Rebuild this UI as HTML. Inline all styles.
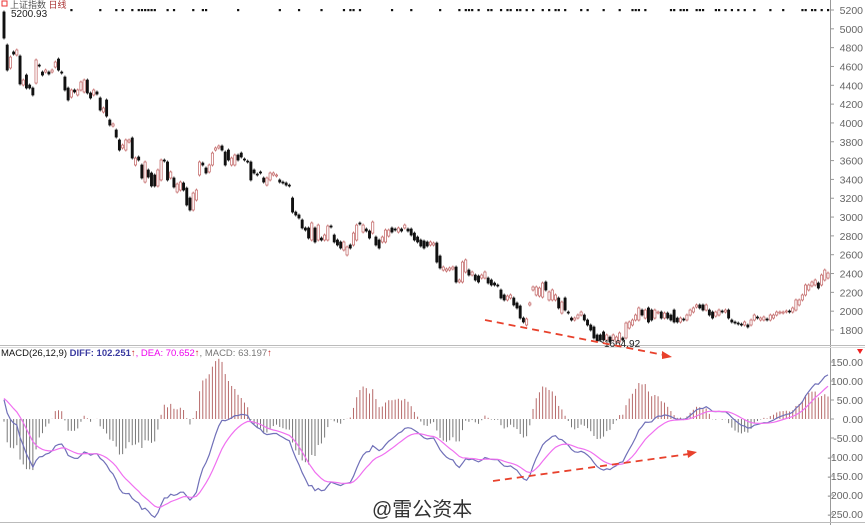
<!DOCTYPE html>
<html><head><meta charset="utf-8"><style>
body{margin:0;background:#fff;width:865px;height:525px;overflow:hidden;font-family:"Liberation Sans","Noto Sans CJK SC",sans-serif}
svg text{font-family:"Liberation Sans","Noto Sans CJK SC",sans-serif}
</style></head><body>
<svg id="chart" width="865" height="525" viewBox="0 0 865 525" xmlns="http://www.w3.org/2000/svg">
<rect x="0" y="0" width="865" height="525" fill="#fff"/>
<line x1="830.5" y1="0" x2="830.5" y2="525" stroke="#999"/>
<line x1="0" y1="345.5" x2="865" y2="345.5" stroke="#bbb"/>
<line x1="0" y1="347.5" x2="865" y2="347.5" stroke="#ddd"/>
<line x1="0" y1="522.5" x2="865" y2="522.5" stroke="#bbb"/>
<g id="priceTicks"></g>
<g id="macdTicks"></g>
<g id="signals"></g>
<g id="hist"></g>
<g id="candles"></g>
<g id="lines"></g>
<rect x="2" y="1" width="5" height="5" fill="none" stroke="#e33" stroke-width="1"/>
<text x="10" y="8" font-size="9" fill="#555">上证指数 <tspan fill="#a33">日线</tspan></text>
<text x="11" y="17" font-size="10" fill="#222">5200.93</text>
<text x="604" y="347" font-size="10" fill="#222">1664.92</text>
<line x1="598" y1="340" x2="604" y2="343" stroke="#333"/>
<text x="1" y="356" font-size="9.5" fill="#111">MACD(26,12,9) <tspan fill="#3a3aa0" font-weight="bold">DIFF: 102.251</tspan><tspan fill="#c33">↑</tspan><tspan fill="#e0e">, DEA: 70.652</tspan><tspan fill="#c33">↑</tspan><tspan fill="#777">, MACD: 63.197</tspan><tspan fill="#c33">↑</tspan></text>
<polygon points="857,349 863,349 860,354" fill="#e22"/>
<g>
<line x1="485" y1="320" x2="664" y2="355" stroke="#e8412c" stroke-width="1.8" stroke-dasharray="7,5"/>
<polygon points="672,357 662,351 662,359" fill="#e8412c"/></g>
<g>
<line x1="493" y1="481" x2="689" y2="454" stroke="#e8412c" stroke-width="1.8" stroke-dasharray="7,5"/>
<polygon points="697,452 687,450 688,458" fill="#e8412c"/></g>
<text x="372" y="516" font-size="20" fill="#333">@雷公资本</text>
</svg>
<script>
const opens=[5179,4828,4584,4754,4722,4711,4403,4509,4403,4371,4424,4615,4541,4541,4541,4541,4594,4679,4541,4488,4371,4275,4350,4297,4350,4329,4456,4318,4297,4329,4265,4116,4244,4031,3967,3925,3819,3734,3712,3797,3840,3553,3638,3553,3372,3500,3468,3447,3330,3394,3606,3585,3415,3415,3266,3287,3362,3308,3202,3075,3181,3447,3574,3521,3479,3553,3712,3734,3755,3691,3712,3553,3553,3659,3680,3617,3595,3585,3500,3457,3479,3415,3340,3394,3447,3436,3394,3372,3362,3340,3202,3053,3022,2969,2884,2884,2756,2884,2756,2777,2756,2756,2905,2809,2756,2735,2650,2597,2703,2703,2756,2937,2841,2873,2852,2830,2788,2756,2735,2735,2798,2884,2873,2841,2873,2884,2873,2873,2830,2788,2756,2746,2735,2703,2703,2724,2586,2437,2427,2437,2448,2469,2310,2310,2416,2437,2384,2384,2374,2352,2352,2352,2331,2299,2278,2225,2172,2119,2140,2140,2087,2055,1927,1853,2066,2225,2172,2161,2150,2310,2119,2119,2119,2140,1980,2140,1991,1927,1906,1927,1959,1959,1906,1853,1832,1747,1747,1779,1694,1725,1694,1672,1672,1715,1715,1821,1853,1906,1906,2012,1927,2034,2012,1927,1980,1991,1927,1980,1959,2012,1927,1885,1917,1906,1959,1991,2044,2066,2066,2012,2012,1991,1948,1959,2002,1991,2012,1906,1885,1874,1863,1853,1853,1853,1906,1938,1906,1906,1917,1906,1927,1959,1980,1980,1991,2002,1991,2012,2066,2119,2172,2225,2268,2278,2299,2278,2331,2352];
const closes=[4902,4562,4700,4732,4775,4414,4456,4371,4371,4297,4669,4605,4509,4562,4520,4562,4647,4562,4530,4350,4244,4350,4329,4350,4435,4456,4318,4265,4350,4307,4137,4159,4073,3978,3989,3850,3712,3765,3819,3819,3627,3627,3606,3415,3585,3425,3330,3330,3500,3606,3595,3394,3479,3319,3351,3372,3287,3128,3075,3255,3287,3585,3553,3468,3553,3680,3734,3755,3712,3553,3606,3627,3659,3606,3638,3606,3585,3394,3468,3447,3468,3372,3415,3468,3468,3447,3372,3362,3340,3330,3053,3022,2990,2884,2862,2777,2937,2735,2915,2756,2809,2905,2894,2735,2703,2671,2735,2682,2671,2830,2915,2926,2915,2852,2777,2947,2703,2671,2788,2862,2862,2841,2862,2884,2852,2915,2852,2809,2756,2735,2692,2671,2692,2735,2724,2522,2459,2469,2448,2459,2469,2310,2331,2522,2544,2384,2416,2331,2310,2384,2416,2299,2278,2278,2268,2140,2119,2161,2172,2066,2034,1927,1885,1917,2087,2257,2257,2246,2299,2225,2204,2225,2172,2034,2097,2012,1980,1906,1927,1959,1991,1906,1853,1800,1715,1683,1694,1694,1747,1672,1747,1725,1768,1694,1874,1885,1906,1959,2034,1959,2012,1885,1906,2012,1991,1927,1980,1927,1906,1885,1885,1927,1906,1959,2012,2034,2066,2034,2012,2066,1959,1927,1991,2012,1991,2012,1927,1885,1874,1863,1853,1885,1832,1906,1959,1927,1927,1938,1906,1959,1959,1991,1991,1991,2002,1991,2034,2119,2119,2172,2278,2278,2310,2331,2246,2384,2437,2405];
const signalIdx=[21,30,35,37,40,42,43,44,45,46,47,51,53,59,62,63,73,86,92,99,106,108,109,111,121,127,136,142,144,145,146,148,151,152,155,157,158,160,161,163,165,168,170,172,173,175,180,182,187,192,196,197,198,200,208,209,211,212,213,216,217,218,222,223,225,227,229,231,234,239,243,249,250,252,253,255,257];
const priceTicks=[5200,5000,4800,4600,4400,4200,4000,3800,3600,3400,3200,3000,2800,2600,2400,2200,2000,1800];
const macdTicks=[150,100,50,0,-50,-100,-150,-200,-250];
const macdSeed=[60,55]; // prior DIFF, prior DEA before first visible bar

const NS='http://www.w3.org/2000/svg';
const N=Math.min(opens.length,closes.length);
const xOf=i=>4+i*(824/(N-1));
const yP=v=>10+(5200-v)*320/3400;
const yM=v=>419-v*0.38;
function mk(tag,attrs,parent){const e=document.createElementNS(NS,tag);for(const k in attrs)e.setAttribute(k,attrs[k]);parent.appendChild(e);return e;}

const pt=document.getElementById('priceTicks');
priceTicks.forEach(v=>{
  const t=mk('text',{x:863,y:yP(v)+4,'font-size':10.5,fill:'#666','text-anchor':'end'},pt);
  t.textContent=v;
  
  
  mk('line',{x1:830,x2:834,y1:yP(v),y2:yP(v),stroke:'#999'},pt);
});
const mt=document.getElementById('macdTicks');
macdTicks.forEach(v=>{
  const t=mk('text',{x:863,y:yM(v)+4,'font-size':10.5,fill:'#666','text-anchor':'end'},mt);
  t.textContent=v.toFixed(2);
  
  
  mk('line',{x1:830,x2:834,y1:yM(v),y2:yM(v),stroke:'#999'},mt);
});

const sg=document.getElementById('signals');
signalIdx.forEach(i=>{
  const r=mk('rect',{x:xOf(i)-1,y:9,width:2.2,height:2.2,fill:'#111'},sg);
  
  
});

const cg=document.getElementById('candles');
for(let i=0;i<N;i++){
  const o=opens[i],c=closes[i],x=xOf(i);
  const up=c>=o;
  const yt=yP(Math.max(o,c)),yb=yP(Math.min(o,c));
  const col=up?'#c06060':'#111';
  const w=mk('line',{x1:x,x2:x,y1:yt-1.5,y2:yb+1.5,stroke:col,'stroke-width':0.8},cg);
  
  
  const b=mk('rect',{x:x-1.1,y:yt,width:2.2,height:Math.max(1,yb-yt),fill:up?'#fff':'#111',stroke:col,'stroke-width':0.7},cg);
  
  
}

// MACD computed from closes
let e26=closes[0],e12=closes[0]+macdSeed[0],dea=macdSeed[1];const diff=[],deaArr=[],histArr=[];
for(let i=0;i<N;i++){
  e12=e12+(closes[i]-e12)*2/13;e26=e26+(closes[i]-e26)*2/27;
  const d=e12-e26;dea=dea+(d-dea)*2/10;
  diff.push(d);deaArr.push(dea);histArr.push(2*(d-dea));
}
const hg=document.getElementById('hist');
for(let i=0;i<N;i++){
  const h=histArr[i];
  const l=mk('line',{x1:xOf(i),x2:xOf(i),y1:yM(0),y2:yM(h),stroke:h>=0?'#b76a6a':'#777','stroke-width':1},hg);
  
  
}
const lg=document.getElementById('lines');
const path=arr=>arr.map((v,i)=>(i?'L':'M')+xOf(i).toFixed(1)+','+yM(v).toFixed(1)).join('');
const dl=mk('path',{d:path(diff),fill:'none',stroke:'#7070b8','stroke-width':1.2},lg);


const el=mk('path',{d:path(deaArr),fill:'none',stroke:'#f070f0','stroke-width':1.2},lg);


</script>
</body></html>
